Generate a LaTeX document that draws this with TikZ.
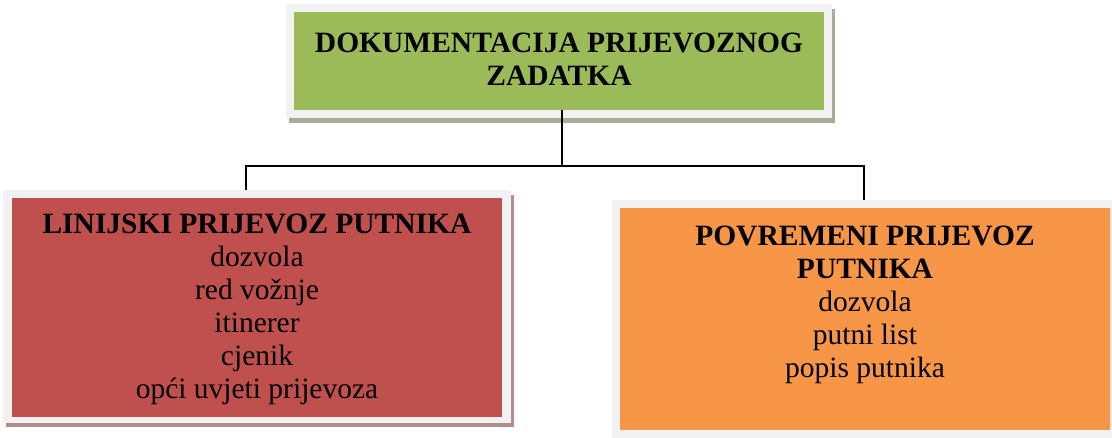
\documentclass[tikz,border=0pt]{standalone}
\usepackage{fontspec}
\setmainfont{Liberation Serif}
\definecolor{framegray}{HTML}{F2F2F2}
\definecolor{topgreen}{HTML}{9BBB59}
\definecolor{boxred}{HTML}{C0504D}
\definecolor{boxorange}{HTML}{F79646}
\definecolor{shadowgreen}{HTML}{A7AE98}
\definecolor{shadowred}{HTML}{B48A8A}
\tikzset{
  frame/.style={fill=framegray, draw=none, inner sep=0pt},
  inner/.style={draw=none, inner sep=0pt},
  label/.style={align=center, inner sep=0pt, font=\fontsize{29.5}{33}\selectfont},
  conn/.style={draw=black, line width=1.6pt},
}
\begin{document}
\begin{tikzpicture}[x=1pt,y=-1pt]
\useasboundingbox (0,0) rectangle (1112,437);
\clip (0,0) rectangle (1112,437);
\fill[white] (0,0) rectangle (1112,437);
% top box
\fill[shadowgreen] (289,9) rectangle (835,123);
\node[frame, minimum width=546pt, minimum height=114pt] (tframe) at (559,61) {};
\node[inner, fill=topgreen, minimum width=530pt, minimum height=98pt] (tbox) at (559,61) {};
\node[label] (ttext) at (559,59) {\textbf{DOKUMENTACIJA PRIJEVOZNOG}\\\textbf{ZADATKA}};
% left box
\fill[shadowred] (6,195) rectangle (514,427);
\node[frame, minimum width=508pt, minimum height=233pt] (lframe) at (257,306.5) {};
\node[inner, fill=boxred, minimum width=490pt, minimum height=219pt] (lbox) at (257,307.5) {};
\node[label] (ltext) at (257,309) {\textbf{LINIJSKI PRIJEVOZ PUTNIKA}\\dozvola\\red vožnje\\itinerer\\cjenik\\opći uvjeti prijevoza};
% right box
\node[frame, minimum width=508pt, minimum height=240pt] (rframe) at (866,320) {};
\node[inner, fill=boxorange, minimum width=490pt, minimum height=222pt] (rbox) at (865,319) {};
\draw[white!70!boxorange, line width=1pt] (rbox.north east) -- (rbox.south east);
\node[label] (rtext) at (865,305) {\textbf{POVREMENI PRIJEVOZ}\\\textbf{PUTNIKA}\\dozvola\\putni list\\popis putnika};
% connectors
\coordinate (j) at (562,166);
\coordinate (lj) at (246,166);
\coordinate (rj) at (864,166);
\draw[conn] (j |- tbox.south) -- (j);
\draw[conn, line cap=rect] (lj) -- (rj);
\draw[conn] (lj) -- (lj |- lframe.north);
\draw[conn] (rj) -- (rj |- rframe.north);
\end{tikzpicture}
\end{document}
